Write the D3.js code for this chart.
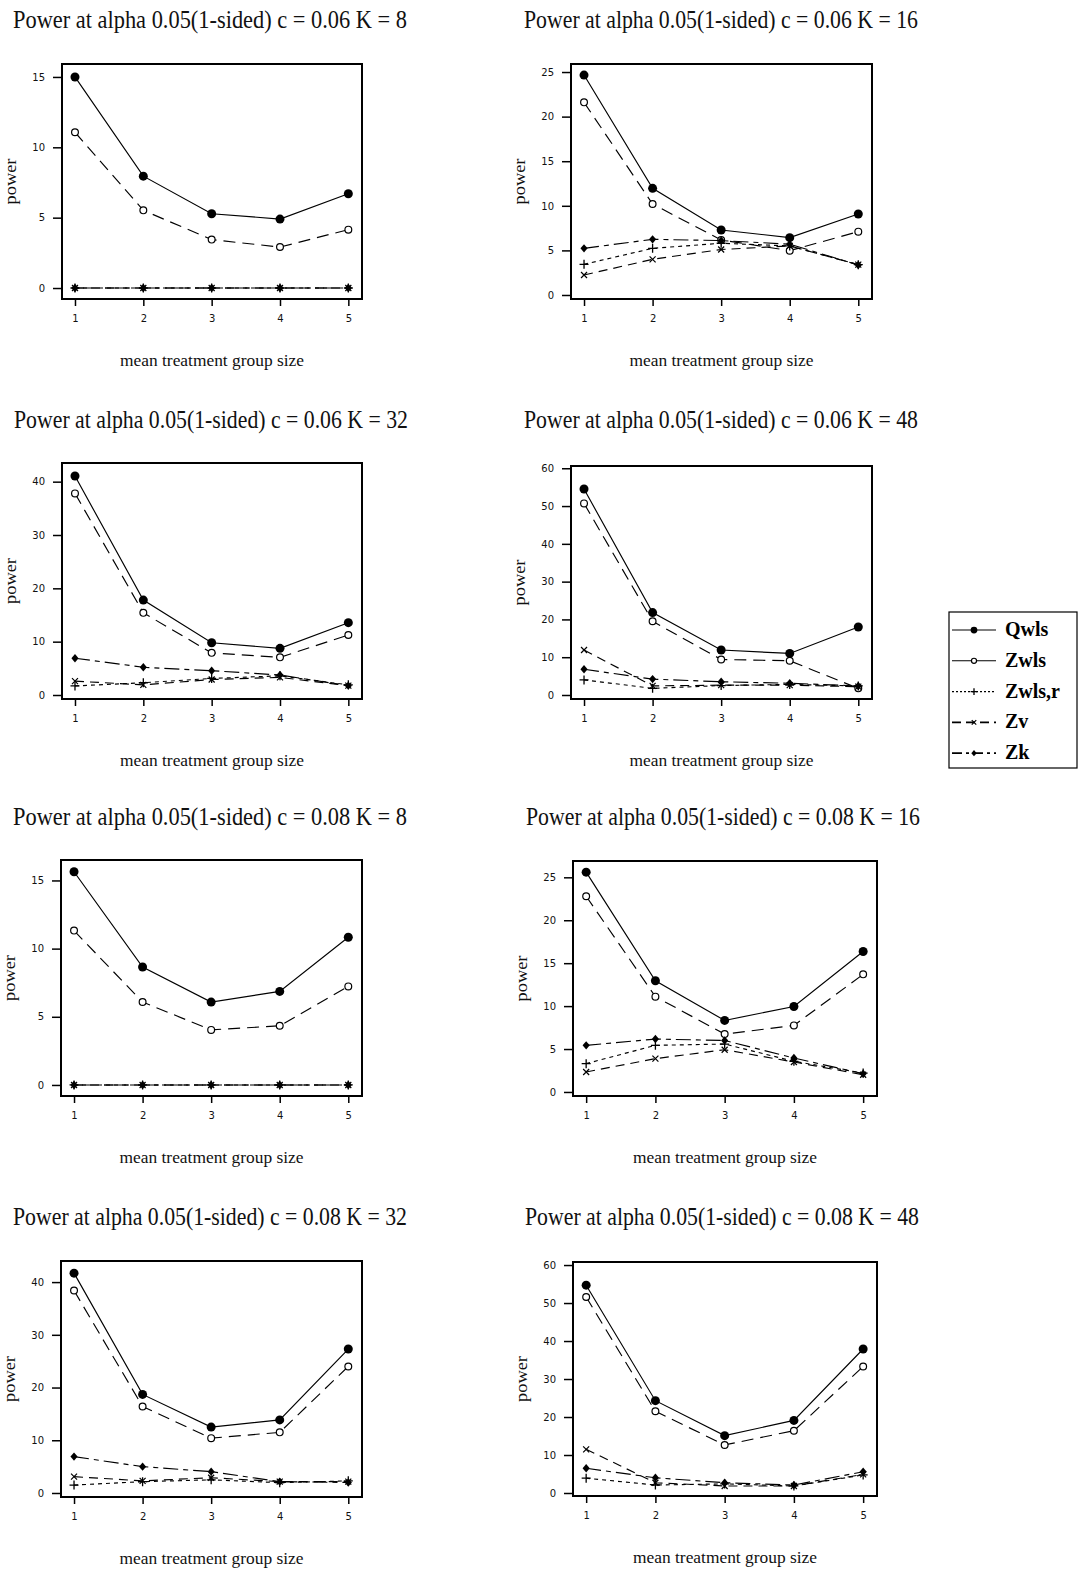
<!DOCTYPE html>
<html>
<head>
<meta charset="utf-8">
<script src="https://cdn.jsdelivr.net/npm/d3@7"></script>
<style>
  html, body { margin: 0; padding: 0; background: #fff; }
  svg { display: block; }
</style>
</head>
<body>
<svg id="chart" width="1080" height="1569"></svg>
<script>
// ---------------- DATA ----------------
const groupSizes = [1, 2, 3, 4, 5];
const seriesNames = ["Qwls", "Zwls", "Zwls,r", "Zv", "Zk"];
const xAxisLabel = "mean treatment group size";
const yAxisLabel = "power";

const panelTitles = [
  "Power at alpha 0.05(1-sided) c = 0.06 K = 8",
  "Power at alpha 0.05(1-sided) c = 0.06 K = 16",
  "Power at alpha 0.05(1-sided) c = 0.06 K = 32",
  "Power at alpha 0.05(1-sided) c = 0.06 K = 48",
  "Power at alpha 0.05(1-sided) c = 0.08 K = 8",
  "Power at alpha 0.05(1-sided) c = 0.08 K = 16",
  "Power at alpha 0.05(1-sided) c = 0.08 K = 32",
  "Power at alpha 0.05(1-sided) c = 0.08 K = 48"
];

// each panel: [Qwls, Zwls, Zwls,r, Zv, Zk]
const power_c06_K8 = [
  [15.0, 7.95, 5.28, 4.9, 6.7],
  [11.07, 5.52, 3.44, 2.91, 4.15],
  [0, 0, 0, 0, 0],
  [0, 0, 0, 0, 0],
  [0, 0, 0, 0, 0]
];
const power_c06_K16 = [
  [24.66, 11.96, 7.29, 6.43, 9.08],
  [21.6, 10.2, 6.17, 4.97, 7.1],
  [3.44, 5.23, 5.8, 5.5, 3.4],
  [2.24, 4.0, 5.1, 5.5, 3.4],
  [5.23, 6.24, 6.1, 5.7, 3.36]
];
const power_c06_K32 = [
  [41.06, 17.8, 9.8, 8.75, 13.56],
  [37.8, 15.4, 7.9, 7.06, 11.25],
  [1.7, 2.3, 3.1, 3.6, 1.9],
  [2.6, 1.9, 2.9, 3.3, 1.75],
  [6.9, 5.2, 4.56, 3.75, 1.75]
];
const power_c06_K48 = [
  [54.5, 21.8, 11.9, 11.0, 18.0],
  [50.7, 19.5, 9.4, 9.06, 1.76],
  [4.0, 1.76, 2.5, 2.8, 2.4],
  [11.9, 2.4, 2.6, 2.6, 2.2],
  [6.8, 4.2, 3.5, 3.1, 2.4]
];
const power_c08_K8 = [
  [15.64, 8.65, 6.08, 6.86, 10.83],
  [11.32, 6.08, 4.04, 4.34, 7.23],
  [0, 0, 0, 0, 0],
  [0, 0, 0, 0, 0],
  [0, 0, 0, 0, 0]
];
const power_c08_K16 = [
  [25.6, 12.95, 8.33, 9.96, 16.36],
  [22.8, 11.1, 6.74, 7.75, 13.7],
  [3.3, 5.43, 5.58, 3.57, 2.2],
  [2.33, 3.88, 4.92, 3.49, 2.0],
  [5.43, 6.16, 6.0, 3.95, 2.13]
];
const power_c08_K32 = [
  [41.7, 18.7, 12.5, 13.86, 27.3],
  [38.4, 16.4, 10.4, 11.5, 24.0],
  [1.5, 2.15, 2.5, 1.96, 2.3],
  [3.1, 2.3, 2.9, 2.15, 2.15],
  [6.9, 5.0, 4.05, 2.15, 2.0]
];
const power_c08_K48 = [
  [54.7, 24.3, 15.1, 19.1, 37.9],
  [51.6, 21.5, 12.65, 16.4, 33.3],
  [3.9, 2.1, 2.4, 1.85, 4.75],
  [11.5, 2.7, 1.85, 1.85, 4.9],
  [6.5, 4.0, 2.7, 2.1, 5.6]
];

const yTicks_c06_K8 = [0, 5, 10, 15];
const yTicks_c06_K16 = [0, 5, 10, 15, 20, 25];
const yTicks_c06_K32 = [0, 10, 20, 30, 40];
const yTicks_c06_K48 = [0, 10, 20, 30, 40, 50, 60];
const yTicks_c08_K8 = [0, 5, 10, 15];
const yTicks_c08_K16 = [0, 5, 10, 15, 20, 25];
const yTicks_c08_K32 = [0, 10, 20, 30, 40];
const yTicks_c08_K48 = [0, 10, 20, 30, 40, 50, 60];

const yDomain_c06_K8 = [-0.78, 15.92];
const yDomain_c06_K16 = [-0.45, 25.9];
const yDomain_c06_K32 = [-0.75, 43.5];
const yDomain_c06_K48 = [-1.06, 60.6];
const yDomain_c08_K8 = [-0.81, 16.5];
const yDomain_c08_K16 = [-0.47, 26.9];
const yDomain_c08_K32 = [-0.76, 44.0];
const yDomain_c08_K48 = [-0.79, 60.8];
const xDomain = [0.81, 5.2];

// ---------------- LAYOUT / STYLE ----------------
const panelData = [power_c06_K8, power_c06_K16, power_c06_K32, power_c06_K48,
                   power_c08_K8, power_c08_K16, power_c08_K32, power_c08_K48];
const panelTicks = [yTicks_c06_K8, yTicks_c06_K16, yTicks_c06_K32, yTicks_c06_K48,
                    yTicks_c08_K8, yTicks_c08_K16, yTicks_c08_K32, yTicks_c08_K48];
const panelDomains = [yDomain_c06_K8, yDomain_c06_K16, yDomain_c06_K32, yDomain_c06_K48,
                      yDomain_c08_K8, yDomain_c08_K16, yDomain_c08_K32, yDomain_c08_K48];
// plot boxes: left, top, right, bottom
const boxes = [
  [62, 64, 362, 299], [571, 64, 872, 299],
  [62, 463, 362, 699], [571, 466, 872, 699],
  [61, 860, 362, 1096], [573, 861, 877, 1096],
  [61, 1261, 362, 1497], [573, 1262, 877, 1496]
];
const titlePos = [
  [210, 28], [721, 28], [211, 428], [721, 428],
  [210, 825], [723, 825], [210, 1225], [722, 1225]
];

const styles = [
  { dash: null,          marker: "dot" },
  { dash: "12,7",        marker: "circle" },
  { dash: "4,4",         marker: "plus" },
  { dash: "9,6",         marker: "cross" },
  { dash: "15,5,5,5",    marker: "diamond" }
];

const svg = d3.select("#chart");
svg.append("rect").attr("width", 1080).attr("height", 1569).attr("fill", "#fff");

function drawMarker(g, type, cx, cy, scale) {
  const s = scale || 1;
  if (type === "dot") {
    g.append("circle").attr("cx", cx).attr("cy", cy).attr("r", 4.5 * s).attr("fill", "#000");
  } else if (type === "circle") {
    g.append("circle").attr("cx", cx).attr("cy", cy).attr("r", 3.4 * s)
      .attr("fill", "#fff").attr("stroke", "#000").attr("stroke-width", 1.2);
  } else if (type === "plus") {
    const h = 4.5 * s;
    g.append("path").attr("d", `M${cx - h},${cy}H${cx + h}M${cx},${cy - h}V${cy + h}`)
      .attr("stroke", "#000").attr("stroke-width", 1.3).attr("fill", "none");
  } else if (type === "cross") {
    const h = 3 * s;
    g.append("path").attr("d", `M${cx - h},${cy - h}L${cx + h},${cy + h}M${cx - h},${cy + h}L${cx + h},${cy - h}`)
      .attr("stroke", "#000").attr("stroke-width", 1.2).attr("fill", "none");
  } else if (type === "diamond") {
    const h = 4.2 * s;
    g.append("path").attr("d", `M${cx},${cy - h}L${cx + h * 0.85},${cy}L${cx},${cy + h}L${cx - h * 0.85},${cy}Z`)
      .attr("fill", "#000");
  }
}

panelData.forEach((data, pi) => {
  const [l, t, r, b] = boxes[pi];
  const g = svg.append("g");
  const x = d3.scaleLinear().domain(xDomain).range([l, r]);
  const y = d3.scaleLinear().domain(panelDomains[pi]).range([b, t]);

  // title
  g.append("text")
    .attr("x", titlePos[pi][0]).attr("y", titlePos[pi][1])
    .attr("text-anchor", "middle")
    .attr("font-family", "'Liberation Serif', 'Times New Roman', serif")
    .attr("font-size", 25)
    .attr("textLength", 394).attr("lengthAdjust", "spacingAndGlyphs")
    .attr("fill", "#111")
    .text(panelTitles[pi]);

  // axes
  const yAxis = d3.axisLeft(y).tickValues(panelTicks[pi]).tickSize(9).tickSizeOuter(0).tickPadding(8)
    .tickFormat(d3.format("d"));
  const ya = g.append("g").attr("transform", `translate(${l},0)`).call(yAxis);
  ya.select(".domain").remove();
  ya.selectAll("line").attr("stroke", "#000").attr("stroke-width", 1.5);
  ya.selectAll("text").attr("font-family", "'DejaVu Sans', sans-serif").attr("font-size", 10).attr("fill", "#111");

  const xAxis = d3.axisBottom(x).tickValues(groupSizes).tickSize(7).tickSizeOuter(0).tickPadding(9)
    .tickFormat(d3.format("d"));
  const xa = g.append("g").attr("transform", `translate(0,${b})`).call(xAxis);
  xa.select(".domain").remove();
  xa.selectAll("line").attr("stroke", "#000").attr("stroke-width", 1.5);
  xa.selectAll("text").attr("font-family", "'DejaVu Sans', sans-serif").attr("font-size", 10).attr("fill", "#111");

  // axis labels
  g.append("text")
    .attr("x", (l + r) / 2).attr("y", b + 67)
    .attr("text-anchor", "middle")
    .attr("font-family", "'Liberation Serif', 'Times New Roman', serif")
    .attr("font-size", 16)
    .attr("textLength", 184).attr("lengthAdjust", "spacingAndGlyphs")
    .attr("fill", "#111")
    .text(xAxisLabel);
  g.append("text")
    .attr("transform", `translate(${l - 46},${(t + b) / 2}) rotate(-90)`)
    .attr("text-anchor", "middle")
    .attr("font-family", "'Liberation Serif', 'Times New Roman', serif")
    .attr("font-size", 16)
    .attr("textLength", 46).attr("lengthAdjust", "spacingAndGlyphs")
    .attr("fill", "#111")
    .text(yAxisLabel);

  // series (drawn in order so that Zk ends on top)
  const line = d3.line().x((d, i) => x(groupSizes[i])).y(d => y(d));
  data.forEach((vals, si) => {
    const st = styles[si];
    g.append("path").datum(vals).attr("d", line)
      .attr("fill", "none").attr("stroke", "#000").attr("stroke-width", 1.15)
      .attr("stroke-dasharray", st.dash);
    vals.forEach((v, i) => drawMarker(g, st.marker, x(groupSizes[i]), y(v)));
  });

  // box
  g.append("rect").attr("x", l).attr("y", t).attr("width", r - l).attr("height", b - t)
    .attr("fill", "none").attr("stroke", "#000").attr("stroke-width", 2);
});

// legend
const lg = svg.append("g");
const legL = 949, legT = 612, legW = 128, legH = 156;
lg.append("rect").attr("x", legL).attr("y", legT).attr("width", legW).attr("height", legH)
  .attr("fill", "#fff").attr("stroke", "#000").attr("stroke-width", 1.2);
const legendDash = [null, null, "2,2", "9,5", "10,4,3,4"];
seriesNames.forEach((name, i) => {
  const cy = 630 + i * 30.8;
  lg.append("line").attr("x1", 952).attr("x2", 996).attr("y1", cy).attr("y2", cy)
    .attr("stroke", "#000").attr("stroke-width", i === 4 || i === 3 ? 1.8 : 1.1)
    .attr("stroke-dasharray", legendDash[i]);
  drawMarker(lg, styles[i].marker, 974, cy, 0.75);
  lg.append("text").attr("x", 1005).attr("y", cy + 6)
    .attr("font-family", "'Liberation Serif', 'Times New Roman', serif")
    .attr("font-weight", "bold").attr("font-size", 20).attr("fill", "#000")
    .text(name);
});
</script>
</body>
</html>
